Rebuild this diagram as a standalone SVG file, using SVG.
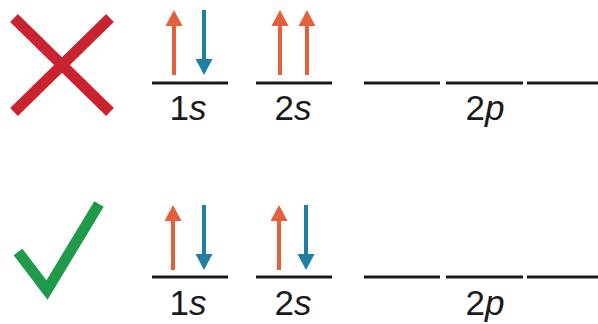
<svg xmlns="http://www.w3.org/2000/svg" xmlns:xlink="http://www.w3.org/1999/xlink" width="598" height="324" viewBox="0 0 598 324">
  <style>
    .lvl { stroke: #1a1a1a; stroke-width: 3; fill: none; }
    .lbl { font-family: "Liberation Sans", Arial, sans-serif; font-size: 35px; fill: #1a1a1a; text-anchor: middle; }
    .it { font-style: italic; }
    .up line { stroke: #e5603a; stroke-width: 4; }
    .up polygon { fill: #e5603a; }
    .dn line { stroke: #1f7fa3; stroke-width: 4; }
    .dn polygon { fill: #1f7fa3; }
  </style>
  <defs>
    <g id="arrowUp" class="up">
      <line x1="0" y1="0" x2="0" y2="-52"/>
      <polygon points="0,-65 -8.5,-49 8.5,-49"/>
    </g>
    <g id="arrowDown" class="dn">
      <line x1="0" y1="0" x2="0" y2="52"/>
      <polygon points="0,65 -8.5,49 8.5,49"/>
    </g>
  </defs>
  <rect width="598" height="324" fill="#ffffff"/>

  <g id="wrong-mark">
    <line x1="14" y1="18" x2="110" y2="112" stroke="#c8232e" stroke-width="11"/>
    <line x1="110" y1="18" x2="14" y2="112" stroke="#c8232e" stroke-width="11"/>
  </g>

  <g id="top-1s">
    <line class="lvl" x1="152" y1="83" x2="228" y2="83"/>
    <use xlink:href="#arrowUp" href="#arrowUp" x="174" y="75"/>
    <use xlink:href="#arrowDown" href="#arrowDown" x="204" y="10"/>
    <text class="lbl" x="188" y="120">1<tspan class="it">s</tspan></text>
  </g>
  <g id="top-2s">
    <line class="lvl" x1="256" y1="83" x2="332" y2="83"/>
    <use xlink:href="#arrowUp" href="#arrowUp" x="280" y="75"/>
    <use xlink:href="#arrowUp" href="#arrowUp" x="307" y="75"/>
    <text class="lbl" x="293" y="120">2<tspan class="it">s</tspan></text>
  </g>
  <g id="top-2p">
    <line class="lvl" x1="364" y1="83" x2="440" y2="83"/>
    <line class="lvl" x1="446" y1="83" x2="523" y2="83"/>
    <line class="lvl" x1="527" y1="83" x2="598" y2="83"/>
    <text class="lbl" x="485" y="120">2<tspan class="it">p</tspan></text>
  </g>

  <g id="right-mark">
    <polyline points="18,252 47,290 99,204" fill="none" stroke="#1e9a4a" stroke-width="11" stroke-linejoin="miter"/>
  </g>

  <g id="bottom-1s">
    <line class="lvl" x1="152" y1="277" x2="228" y2="277"/>
    <use xlink:href="#arrowUp" href="#arrowUp" x="173" y="270"/>
    <use xlink:href="#arrowDown" href="#arrowDown" x="204" y="205"/>
    <text class="lbl" x="188" y="315">1<tspan class="it">s</tspan></text>
  </g>
  <g id="bottom-2s">
    <line class="lvl" x1="256" y1="277" x2="332" y2="277"/>
    <use xlink:href="#arrowUp" href="#arrowUp" x="279" y="270"/>
    <use xlink:href="#arrowDown" href="#arrowDown" x="306" y="205"/>
    <text class="lbl" x="293" y="315">2<tspan class="it">s</tspan></text>
  </g>
  <g id="bottom-2p">
    <line class="lvl" x1="364" y1="277" x2="440" y2="277"/>
    <line class="lvl" x1="446" y1="277" x2="523" y2="277"/>
    <line class="lvl" x1="527" y1="277" x2="598" y2="277"/>
    <text class="lbl" x="485" y="315">2<tspan class="it">p</tspan></text>
  </g>

  <g id="connectors"/>
</svg>
